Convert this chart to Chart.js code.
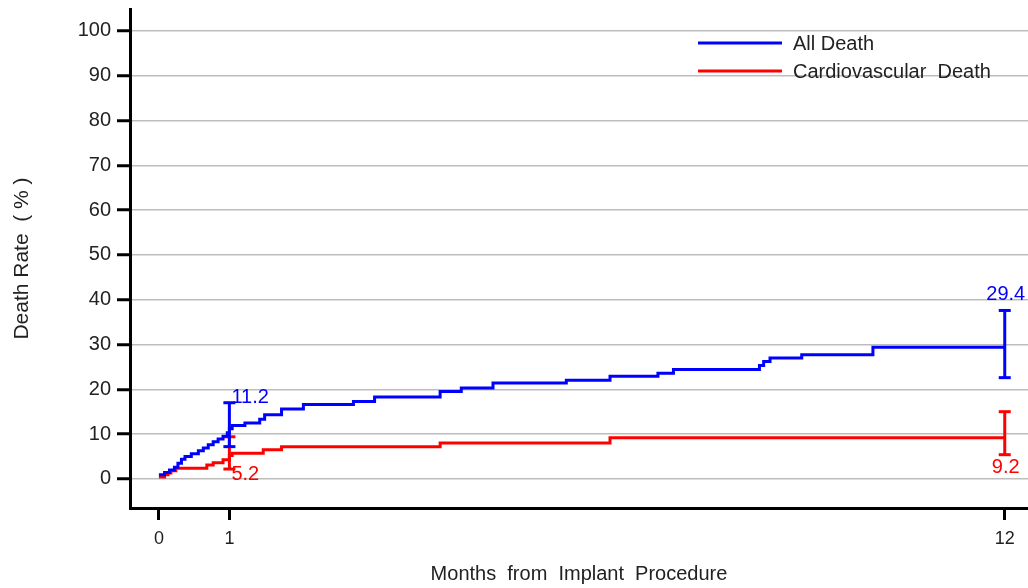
<!DOCTYPE html>
<html lang="en">
<head>
    <meta charset="UTF-8">
    <title>Death Rate after Implant</title>
    <script src="https://cdn.jsdelivr.net/npm/chart.js"></script>
    <style>
        html, body { margin: 0; padding: 0; background: #fff; }
        canvas { display: block; }
    </style>
</head>
<body>
    <canvas id="deathChart" width="1028" height="588"></canvas>
    <script>
        // Kaplan-Meier style cumulative rates (months, %)
        const allDeathMonths = [0, 0.08, 0.15, 0.22, 0.27, 0.32, 0.37, 0.46, 0.56, 0.63, 0.70, 0.77, 0.84, 0.91, 0.97, 1.0,
            1.04, 1.22, 1.43, 1.50, 1.74, 2.05, 2.76, 3.06, 3.99, 4.29, 4.74, 5.78, 6.40, 7.08, 7.30, 8.52, 8.58, 8.67, 9.12, 10.13, 12];
        const allDeathRate = [0.9, 1.4, 2.0, 2.6, 3.5, 4.4, 5.0, 5.6, 6.3, 6.9, 7.6, 8.3, 8.9, 9.5, 10.3, 11.2,
            11.9, 12.5, 13.3, 14.3, 15.6, 16.6, 17.3, 18.3, 19.5, 20.3, 21.4, 22.0, 22.9, 23.6, 24.4, 25.3, 26.2, 27.0, 27.7, 29.4, 29.4];

        const cvDeathMonths = [0, 0.08, 0.13, 0.17, 0.24, 0.68, 0.77, 0.91, 1.0, 1.04, 1.48, 1.74, 3.99, 6.40, 12];
        const cvDeathRate = [0.4, 0.9, 1.3, 1.8, 2.4, 3.1, 3.6, 4.25, 5.2, 5.7, 6.5, 7.2, 8.0, 9.2, 9.2];

        // estimates and confidence limits at 1 and 12 months
        const ciMonths = [1, 12];
        const allDeathAt = [11.2, 29.4];
        const allDeathLow = [7.2, 22.6];
        const allDeathHigh = [17.0, 37.6];
        const cvDeathAt = [5.2, 9.2];
        const cvDeathLow = [2.2, 5.4];
        const cvDeathHigh = [9.4, 15.0];

        const xTicks = [0, 1, 12];
        const yTicks = [0, 10, 20, 30, 40, 50, 60, 70, 80, 90, 100];

        const BLUE = '#0000ff';
        const RED = '#ff0000';
        const FONT = '"Liberation Sans", Arial, sans-serif';

        const toPoints = (xs, ys) => xs.map((x, i) => ({ x: x, y: ys[i] }));

        function errorBar(month, lo, hi, color) {
            return {
                data: [{ x: month, y: lo }, { x: month, y: hi }],
                borderColor: color,
                borderWidth: 3,
                pointStyle: 'line',
                pointRadius: 6,
                pointBorderWidth: 3,
                pointBorderColor: color,
                inLegend: false
            };
        }

        const series = [
            { label: 'All Death', color: BLUE, months: allDeathMonths, rate: allDeathRate,
              at: allDeathAt, low: allDeathLow, high: allDeathHigh, side: 'above' },
            { label: 'Cardiovascular  Death', color: RED, months: cvDeathMonths, rate: cvDeathRate,
              at: cvDeathAt, low: cvDeathLow, high: cvDeathHigh, side: 'below' }
        ];

        const datasets = [];
        series.forEach(s => {
            datasets.push({
                label: s.label,
                data: toPoints(s.months, s.rate),
                borderColor: s.color,
                borderWidth: 3,
                stepped: 'before',
                pointRadius: 0
            });
        });
        series.forEach(s => {
            ciMonths.forEach((m, i) => datasets.push(errorBar(m, s.low[i], s.high[i], s.color)));
        });

        // value labels next to the confidence bars + legend in the top right corner
        const annotate = {
            id: 'annotate',
            afterDatasetsDraw(chart) {
                const { ctx, scales: { x, y } } = chart;
                ctx.save();
                ctx.font = '20px ' + FONT;
                series.forEach(s => {
                    ciMonths.forEach((m, i) => {
                        const last = i === ciMonths.length - 1;
                        const px = x.getPixelForValue(m);
                        ctx.fillStyle = s.color;
                        ctx.textBaseline = 'middle';
                        ctx.textAlign = last ? 'center' : 'left';
                        const tx = last ? px + 1 : px + 2;
                        let ty;
                        if (s.side === 'above') {
                            ty = y.getPixelForValue(s.high[i]) - (last ? 16 : 5);
                        } else {
                            ty = y.getPixelForValue(s.low[i]) + (last ? 13 : 5);
                        }
                        ctx.fillText(s.at[i].toFixed(1), tx, ty);
                    });
                });

                // legend
                const lx = 698, ly = 43, gap = 28;
                chart.data.datasets.filter(d => d.inLegend !== false).forEach((d, i) => {
                    const yy = ly + i * gap;
                    ctx.strokeStyle = d.borderColor;
                    ctx.lineWidth = 3;
                    ctx.beginPath();
                    ctx.moveTo(lx, yy);
                    ctx.lineTo(lx + 84, yy);
                    ctx.stroke();
                    ctx.fillStyle = '#222';
                    ctx.textAlign = 'left';
                    ctx.textBaseline = 'middle';
                    ctx.fillText(d.label, lx + 95, yy + 1);
                });
                ctx.restore();
            }
        };

        // no extra room for edge labels: the plot runs to the canvas edge
        function noEdgePadding(s) {
            s.paddingLeft = 0;
            s.paddingRight = 0;
            s.paddingTop = 0;
            s.paddingBottom = 0;
        }

        new Chart(document.getElementById('deathChart'), {
            type: 'line',
            data: { datasets: datasets },
            options: {
                responsive: false,
                animation: false,
                events: [],
                devicePixelRatio: 1,
                layout: { autoPadding: false, padding: { top: 9, right: 0, left: 0, bottom: 0 } },
                plugins: {
                    legend: { display: false },
                    tooltip: { enabled: false }
                },
                scales: {
                    x: {
                        type: 'linear',
                        min: -0.41,
                        max: 12.33,
                        afterBuildTicks: s => { s.ticks = xTicks.map(v => ({ value: v })); },
                        afterFit: s => { s.height = 80; noEdgePadding(s); },
                        grid: { drawOnChartArea: false, tickColor: '#000', tickWidth: 3, tickLength: 12 },
                        border: { color: '#000', width: 3 },
                        ticks: { color: '#222', padding: 8, font: { size: 18, family: FONT } },
                        title: {
                            display: true,
                            text: 'Months  from  Implant  Procedure',
                            color: '#222',
                            font: { size: 20, family: FONT },
                            padding: { top: 0, bottom: 2 }
                        }
                    },
                    y: {
                        min: -6.5,
                        max: 104.9,
                        afterBuildTicks: s => { s.ticks = yTicks.map(v => ({ value: v })); },
                        afterFit: s => { s.width = 130; noEdgePadding(s); },
                        grid: { color: '#bdbdbd', lineWidth: 1.5, tickColor: '#000', tickWidth: 3, tickLength: 13 },
                        border: { color: '#000', width: 3 },
                        ticks: { color: '#222', padding: 6, font: { size: 20, family: FONT } },
                        title: {
                            display: true,
                            text: 'Death Rate  ( % )',
                            color: '#222',
                            font: { size: 21, family: FONT },
                            padding: { top: 10, bottom: 0 }
                        }
                    }
                }
            },
            plugins: [annotate]
        });
    </script>
</body>
</html>
